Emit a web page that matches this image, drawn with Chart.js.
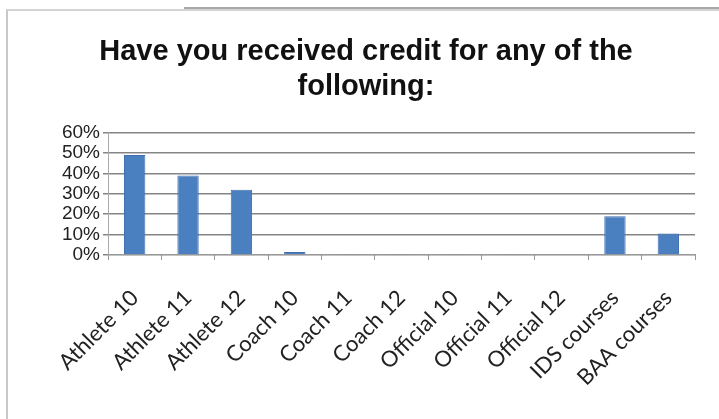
<!DOCTYPE html>
<html lang="en">
<head>
    <meta charset="UTF-8">
    <title>Have you received credit</title>
    <script src="https://cdn.jsdelivr.net/npm/chart.js"></script>
    <style>
        html, body { margin: 0; padding: 0; background: #fff; }
        .wrap { position: relative; width: 719px; height: 419px; overflow: hidden; }
        .frame { position: absolute; left: 6px; top: 9px; width: 720px; height: 420px;
                 border-left: 2px solid #c8c8c8; border-top: 2px solid #d4d4d4; }
        .frame-top { position: absolute; left: 184px; top: 7px; width: 540px; height: 2px; background: #a8a8a8; }
        canvas { position: absolute; left: 0; top: 0; }
    </style>
</head>
<body>
<div class="wrap">
    <div class="frame"></div>
    <div class="frame-top"></div>
    <canvas id="creditChart" width="719" height="419"></canvas>
</div>
<script>
    const categories = ['Athlete 10', 'Athlete 11', 'Athlete 12', 'Coach 10', 'Coach 11', 'Coach 12',
                        'Official 10', 'Official 11', 'Official 12', 'IDS courses', 'BAA courses'];
    const percentValues = [49, 39, 32, 1.5, 0.3, 0.3, 0.3, 0.3, 0, 19, 10.5];
    const yTicks = [0, 10, 20, 30, 40, 50, 60];
    const titleLines = ['Have you received credit for any of the', 'following:'];

    const ctx = document.getElementById('creditChart').getContext('2d');
    new Chart(ctx, {
        type: 'bar',
        data: {
            labels: categories,
            datasets: [{
                label: 'Credit',
                data: percentValues,
                backgroundColor: '#4b80c0',
                borderColor: '#3f6fae',
                borderWidth: 1,
                categoryPercentage: 0.8,
                barPercentage: 0.5
            }]
        },
        options: {
            responsive: false,
            animation: false,
            layout: { padding: { left: 37, right: 24, top: 0, bottom: 0 } },
            plugins: {
                legend: { display: false },
                tooltip: { enabled: false },
                title: {
                    display: true,
                    text: titleLines,
                    color: '#111',
                    font: { family: 'Liberation Sans', size: 29, weight: 'bold', lineHeight: 1.2 },
                    padding: { top: 35, bottom: 28 }
                }
            },
            scales: {
                x: {
                    offset: true,
                    afterFit: axis => { axis.height = 164; },
                    grid: { display: true, drawOnChartArea: false, drawTicks: true, tickLength: 5, offset: true, color: '#999' },
                    border: { display: true, color: '#999' },
                    ticks: {
                        color: '#222',
                        maxRotation: 45,
                        minRotation: 45,
                        autoSkip: false,
                        padding: 25,
                        font: { family: 'Lato', size: 22 }
                    }
                },
                y: {
                    min: 0,
                    max: 60,
                    afterFit: axis => { axis.width = 71; },
                    afterBuildTicks: axis => { axis.ticks = yTicks.map(v => ({ value: v })); },
                    grid: { color: '#858585', lineWidth: 1.5, tickLength: 5, drawTicks: true },
                    border: { display: true, color: '#aaa' },
                    ticks: {
                        color: '#222',
                        padding: 3,
                        autoSkip: false,
                        font: { family: 'Liberation Sans', size: 19 },
                        callback: v => v + '%'
                    }
                }
            }
        }
    });
</script>
</body>
</html>
